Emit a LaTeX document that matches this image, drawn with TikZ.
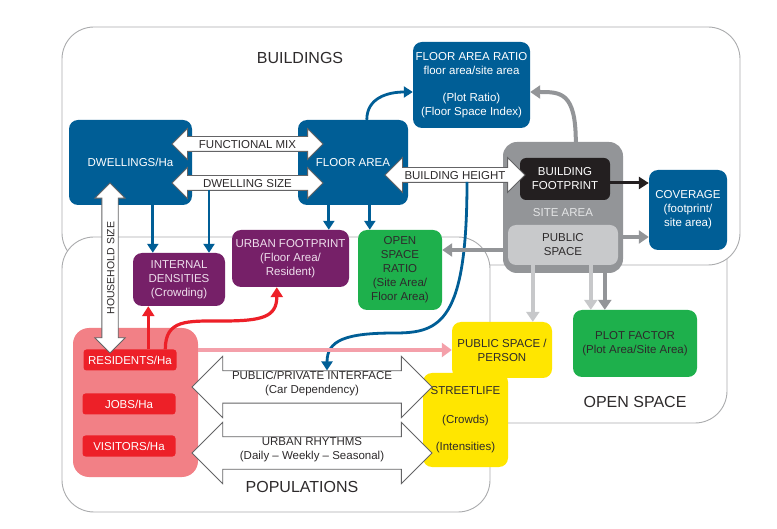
\documentclass[tikz,border=0pt]{standalone}
\usepackage{fontspec}
\setmainfont{Liberation Sans}
\usetikzlibrary{arrows.meta,shapes.arrows}
\definecolor{bblue}{RGB}{0,94,150}
\definecolor{upurple}{RGB}{118,32,104}
\definecolor{purpletxt}{RGB}{238,222,236}
\definecolor{ogreen}{RGB}{30,176,76}
\definecolor{syellow}{RGB}{255,230,0}
\definecolor{pred}{RGB}{237,32,40}
\definecolor{ppink}{RGB}{242,128,134}
\definecolor{arrowpink}{RGB}{244,160,170}
\definecolor{sitegray}{RGB}{147,149,152}
\definecolor{sitetxt}{RGB}{228,229,230}
\definecolor{pubgray}{RGB}{200,201,203}
\definecolor{lgray}{RGB}{199,200,202}
\definecolor{footblack}{RGB}{35,31,32}
\definecolor{txtdark}{RGB}{45,42,43}
\definecolor{edgegray}{RGB}{100,100,102}
\definecolor{regiongray}{RGB}{170,171,173}

\begin{document}
\begin{tikzpicture}[x=1pt,y=-1pt]
    \tikzset{region/.style = {draw=regiongray, line width=0.9pt, fill=white, rounded corners=32pt}}
    \tikzset{box/.style = {align=center, inner sep=0pt, rounded corners=9pt, font=\fontsize{11.5}{14}\selectfont}}
    \tikzset{bluebox/.style = {box, fill=bblue, text=white}}
    \tikzset{purplebox/.style = {box, fill=upurple, text=purpletxt}}
    \tikzset{greenbox/.style = {box, fill=ogreen, text=txtdark}}
    \tikzset{yellowbox/.style = {box, fill=syellow, text=txtdark}}
    \tikzset{redbox/.style = {box, fill=pred, text=white, rounded corners=3pt, minimum width=93pt, minimum height=21pt}}
    \tikzset{heading/.style = {font=\fontsize{16}{19}\selectfont, text=txtdark}}
    \tikzset{dbl/.style = {double arrow, draw=edgegray, fill=white, line width=0.8pt, inner xsep=0pt, align=center, text=txtdark, font=\fontsize{11.5}{14}\selectfont}}
    \tikzset{dblone/.style = {dbl, text height=8.5pt, text depth=0pt, inner ysep=2.75pt}}
    \tikzset{dbltwo/.style = {dbl, text height=22.5pt, text depth=9pt, inner ysep=0pt, double arrow head extend=14.5pt}}
    \tikzset{barrow/.style = {draw=bblue, line width=2.8pt, -{Triangle[length=9pt,width=11pt]}}}
    \tikzset{garrow/.style = {draw=sitegray, line width=4pt, -{Triangle[length=10pt,width=13pt]}}}
    \tikzset{lgarrow/.style = {draw=lgray, line width=4pt, -{Triangle[length=10pt,width=13pt]}}}
    \tikzset{karrow/.style = {draw=footblack, line width=3pt, -{Triangle[length=10pt,width=12pt]}}}
    \tikzset{rarrow/.style = {draw=pred, line width=3.2pt, -{Triangle[length=10pt,width=12pt]}}}
    \tikzset{parrow/.style = {draw=arrowpink, line width=4.5pt, -{Triangle[length=10pt,width=14pt]}}}

    \useasboundingbox (0,0) rectangle (777,529);

    % regions
    \draw[region] (430,200) rectangle (727,423);
    \draw[region] (62,27) rectangle (740,265);
    \draw[region] (62,237) rectangle (490,512);

    \node[heading] (bldlbl) at (300,58) {BUILDINGS};
    \node[heading] (poplbl) at (302,487) {POPULATIONS};
    \node[heading] (osplbl) at (635,402) {OPEN SPACE};

    % boxes
    \node[bluebox, minimum width=117pt, minimum height=86pt] (far) at (471.5,85) {FLOOR AREA RATIO\\floor area/site area\\[13pt](Plot Ratio)\\(Floor Space Index)};
    \node[bluebox, minimum width=123pt, minimum height=85pt] (dwell) at (130.5,162.5) {DWELLINGS/Ha};
    \node[bluebox, minimum width=110pt, minimum height=85pt] (floor) at (353,162.5) {FLOOR AREA};
    \node[box, fill=sitegray, rounded corners=14pt, minimum width=120pt, minimum height=131pt] (site) at (563,207.5) {};
    \node[box, text=sitetxt] (sitelbl) at (563,213) {SITE AREA};
    \node[box, fill=footblack, text=white, rounded corners=6pt, minimum width=90pt, minimum height=42pt] (foot) at (565,179) {BUILDING\\FOOTPRINT};
    \node[box, fill=pubgray, text=txtdark, rounded corners=8pt, minimum width=110pt, minimum height=40pt] (pubsp) at (563,245) {PUBLIC\\SPACE};
    \node[bluebox, minimum width=78pt, minimum height=80pt] (cover) at (688,210) {COVERAGE\\(footprint/\\site area)};
    \node[greenbox, minimum width=84pt, minimum height=80pt] (osr) at (400,270) {OPEN\\SPACE\\RATIO\\(Site Area/\\Floor Area)};
    \node[purplebox, minimum width=117pt, minimum height=57pt] (ufp) at (290.5,258.5) {URBAN FOOTPRINT\\(Floor Area/\\Resident)};
    \node[purplebox, minimum width=92pt, minimum height=53pt] (intd) at (179,279.5) {INTERNAL\\DENSITIES\\(Crowding)};
    \node[box, fill=ppink, rounded corners=16pt, minimum width=125pt, minimum height=149pt] (resarea) at (135.5,402.5) {};
    \node[redbox] (res) at (130,360) {RESIDENTS/Ha};
    \node[redbox] (jobs) at (129,404) {JOBS/Ha};
    \node[redbox] (visit) at (129,446) {VISITORS/Ha};
    \node[yellowbox, minimum width=100pt, minimum height=56pt] (pubpers) at (502,350) {PUBLIC SPACE /\\PERSON};
    \node[yellowbox, minimum width=85pt, minimum height=94pt] (street) at (465.5,420) {STREETLIFE\\[15pt](Crowds)\\[13pt](Intensities)};
    \node[greenbox, minimum width=124pt, minimum height=67pt] (plot) at (635,343.5) {PLOT FACTOR\\(Plot Area/Site Area)};

    % double arrows
    \node[dblone, minimum height=151pt, double arrow head extend=8pt] (fmix) at (247.5,144) {FUNCTIONAL MIX};
    \node[dblone, minimum height=151pt, double arrow head extend=8pt] (dsize) at (247.5,183) {DWELLING SIZE};
    \node[dblone, minimum height=140pt, double arrow head extend=10pt] (bheight) at (455,175) {BUILDING HEIGHT};
    \node[dblone, rotate=90, minimum height=170pt, double arrow head extend=7pt, inner ysep=3.5pt, font=\fontsize{10.5}{12}\selectfont] (hhsize) at (110,268) {HOUSEHOLD SIZE};
    \node[dbltwo, minimum height=240pt] (ppi) at (312,387) {PUBLIC/PRIVATE INTERFACE\\(Car Dependency)};
    \node[dbltwo, minimum height=240pt] (rhythm) at (312,453) {URBAN RHYTHMS\\(Daily -- Weekly -- Seasonal)};

    \coordinate (bend) at (395,333);
    \coordinate (rbend) at (222,321);

    % arrows
    \draw[barrow] ([xshift=84pt]dwell.south west) -- ([xshift=84pt]dwell.south west |- intd.north);
    \draw[barrow] ([xshift=-38.5pt,yshift=-7pt]dsize.center) -- ([xshift=-38.5pt]dsize.center |- intd.north);
    \draw[barrow] ([xshift=31pt]floor.south west) -- ([xshift=31pt]floor.south west |- ufp.north);
    \draw[barrow] ([xshift=72pt]floor.south west) -- ([xshift=72pt]floor.south west |- osr.north);
    \draw[barrow] ([xshift=69pt]floor.north west) .. controls +(0,-22) and +(-25,0) .. ([yshift=-7pt]far.west);
    \draw[barrow] ([xshift=12pt,yshift=-7pt]bheight.center) .. controls +(0,140) and +(45,0) .. (bend) .. controls +(-50,0) and +(0,-30) .. ([xshift=15pt]ppi.north);

    \draw[garrow] ([xshift=73pt]site.north west) .. controls +(0,-50) and +(30,0) .. ([yshift=-7pt]far.east);
    \draw[karrow] ([yshift=-4pt]foot.east) -- ([yshift=-4pt]foot.east -| cover.west);
    \draw[garrow] ([yshift=8pt]pubsp.east -| site.east) -- ([yshift=8pt]pubsp.east -| cover.west);
    \draw[garrow] ([yshift=-5pt]pubsp.west -| site.west) -- ([yshift=-5pt]pubsp.west -| osr.east);
    \draw[lgarrow] ([xshift=25pt]pubsp.south west) -- ([xshift=25pt]pubsp.south west |- pubpers.north);
    \draw[lgarrow] ([xshift=83pt]pubsp.south west) -- ([xshift=83pt]pubsp.south west |- plot.north);
    \draw[garrow] ([xshift=102pt]site.south west) -- ([xshift=102pt]site.south west |- plot.north);

    \draw[rarrow] ([xshift=65pt]res.north west) -- ([xshift=65pt]res.north west |- intd.south);
    \draw[rarrow] ([xshift=82pt]res.north west) .. controls +(0,-30) and +(-35,0) .. (rbend) .. controls +(40,0) and +(0,30) .. ([xshift=45pt]ufp.south west);
    \draw[parrow] (pubpers.west -| resarea.east) -- (pubpers.west);
\end{tikzpicture}
\end{document}
